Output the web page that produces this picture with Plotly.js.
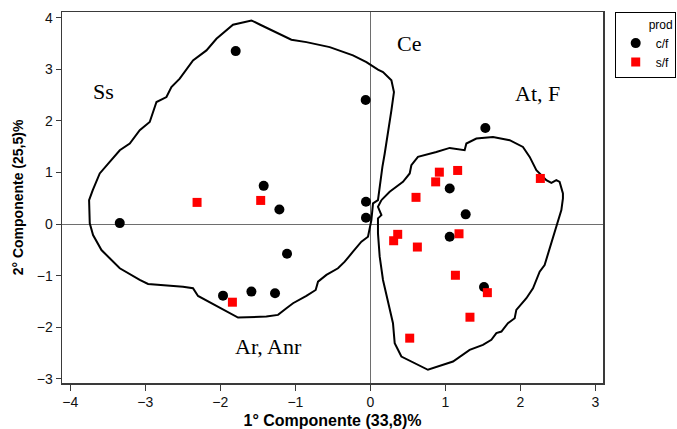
<!DOCTYPE html>
<html>
<head>
<meta charset="utf-8">
<script src="https://cdn.plot.ly/plotly-3.0.1.min.js"></script>
<style>
  html, body { margin: 0; padding: 0; background: #fff; }
  #chart { width: 677px; height: 429px; }
</style>
</head>
<body>
<div id="chart"></div>
<script>
// ---- Data ----
const groupNames = ["c/f", "s/f"];

const cfX = [-1.795, -0.063, 1.532, -1.422, -1.213, -3.340, -0.059, -0.059, -1.111, -1.964, -1.586, -1.271, 1.057, 1.270, 1.057, 1.514];
const cfY = [3.352, 2.404, 1.863, 0.741, 0.284, 0.019, 0.431, 0.122, -0.574, -1.387, -1.309, -1.340, 0.691, 0.188, -0.246, -1.219];

const sfX = [-2.310, -1.462, -1.839, 0.919, 1.163, 0.870, 2.265, 0.608, 0.364, 0.310, 1.181, 0.626, 1.133, 1.559, 1.327, 0.524];
const sfY = [0.420, 0.458, -1.514, 1.006, 1.039, 0.818, 0.884, 0.518, -0.199, -0.323, -0.188, -0.445, -0.992, -1.329, -1.805, -2.211];

// Hand-drawn group outlines (data units)
const leftOutlineX = [-3.700, -3.607, -3.474, -3.340, -3.207, -3.074, -2.941, -2.851, -2.718, -2.652, -2.541, -2.408, -2.364, -2.185, -2.052, -1.831, -1.586, -1.475, -1.053, -0.853, -0.542, -0.232, -0.053, 0.101, 0.168, 0.280, 0.314, 0.280, 0.235, 0.191, 0.160, 0.124, 0.101, 0.035, 0.013, -0.032, -0.120, -0.232, -0.342, -0.432, -0.586, -0.698, -0.729, -0.853, -1.031, -1.119, -1.231, -1.386, -1.764, -2.297, -2.364, -2.497, -2.963, -3.074, -3.340, -3.474, -3.584, -3.696, -3.740, -3.749, -3.700];
const leftOutlineY = [0.658, 0.981, 1.205, 1.431, 1.561, 1.818, 1.979, 2.366, 2.462, 2.656, 2.818, 3.075, 3.172, 3.366, 3.592, 3.863, 3.946, 3.868, 3.573, 3.526, 3.429, 3.269, 3.139, 2.992, 2.946, 2.785, 2.559, 2.205, 1.754, 1.368, 1.108, 0.721, 0.464, 0.400, 0.077, -0.246, -0.342, -0.536, -0.729, -0.857, -0.986, -1.116, -1.277, -1.393, -1.534, -1.631, -1.760, -1.793, -1.812, -1.393, -1.244, -1.213, -1.161, -1.083, -0.857, -0.663, -0.503, -0.213, 0.014, 0.464, 0.658];

const rightOutlineX = [0.147, 0.257, 0.434, 0.524, 0.546, 0.634, 0.879, 1.057, 1.256, 1.279, 1.412, 1.634, 1.856, 2.033, 2.123, 2.212, 2.345, 2.412, 2.478, 2.522, 2.566, 2.566, 2.545, 2.478, 2.389, 2.322, 2.256, 2.167, 2.079, 1.945, 1.923, 1.833, 1.746, 1.679, 1.612, 1.500, 1.323, 1.101, 0.767, 0.413, 0.368, 0.324, 0.301, 0.235, 0.168, 0.124, 0.101, 0.101, 0.147, 0.101, 0.147];
const rightOutlineY = [0.464, 0.625, 0.818, 0.981, 1.141, 1.302, 1.398, 1.476, 1.431, 1.561, 1.658, 1.689, 1.625, 1.495, 1.302, 1.044, 0.851, 0.799, 0.851, 0.818, 0.594, 0.497, 0.271, -0.052, -0.503, -0.793, -0.923, -1.244, -1.437, -1.663, -1.824, -1.921, -2.083, -2.114, -2.244, -2.340, -2.437, -2.663, -2.824, -2.567, -2.437, -2.308, -1.921, -1.534, -1.083, -0.632, -0.180, 0.110, 0.174, 0.335, 0.464];

// Group labels (text and their data coordinates)
const labelText = ["Ss", "Ce", "At, F", "Ar, Anr"];
const labelX = [-3.554, 0.517, 2.233, -1.352];
const labelY = [2.573, 3.495, 2.528, -2.379];

const xTickVals = [-4, -3, -2, -1, 0, 1, 2, 3];
const yTickVals = [-3, -2, -1, 0, 1, 2, 3, 4];

// ---- Traces ----
const outlineStyle = { color: "#000000", width: 2 };
const traces = [
  { x: leftOutlineX, y: leftOutlineY, mode: "lines", line: outlineStyle, showlegend: false, hoverinfo: "skip" },
  { x: rightOutlineX, y: rightOutlineY, mode: "lines", line: outlineStyle, showlegend: false, hoverinfo: "skip" },
  { x: cfX, y: cfY, mode: "markers", name: groupNames[0],
    marker: { symbol: "circle", color: "#000000", size: 10 } },
  { x: sfX, y: sfY, mode: "markers", name: groupNames[1],
    marker: { symbol: "square", color: "#ff0000", size: 9 } }
];

const annotations = labelText.map((t, i) => ({
  x: labelX[i], y: labelY[i], xref: "x", yref: "y", text: t, showarrow: false,
  font: { family: "Liberation Serif, Times New Roman, serif", size: 22, color: "#000" }
}));

const axisCommon = {
  showgrid: false, zeroline: true, zerolinecolor: "#6e6e6e", zerolinewidth: 1,
  showline: true, linecolor: "#3a3a3a", linewidth: 1.5, mirror: true,
  ticks: "outside", ticklen: 5, tickwidth: 1, tickcolor: "#3a3a3a",
  tickfont: { family: "Liberation Sans, Arial, sans-serif", size: 14, color: "#111" }
};

const layout = {
  width: 677, height: 429,
  margin: { l: 62, r: 74, t: 12, b: 46, autoexpand: false },
  paper_bgcolor: "#fff", plot_bgcolor: "#fff",
  font: { family: "Liberation Sans, Arial, sans-serif", color: "#000" },
  xaxis: Object.assign({}, axisCommon, {
    range: [-4.11, 3.10], tickvals: xTickVals, ticklen: 6,
    title: { text: "1° Componente (33,8)%", font: { size: 16, family: "Liberation Sans, Arial, sans-serif", weight: "bold" }, standoff: 6 }
  }),
  yaxis: Object.assign({}, axisCommon, {
    range: [-3.08, 4.11], tickvals: yTickVals,
    title: { text: "2° Componente (25,5)%", font: { size: 14, family: "Liberation Sans, Arial, sans-serif", weight: "bold" }, standoff: 10 }
  }),
  showlegend: true,
  legend: {
    xref: "container", yref: "container",
    x: 0.908, y: 0.972, xanchor: "left", yanchor: "top",
    bordercolor: "#000", borderwidth: 1, bgcolor: "#fff",
    title: { text: "prod", font: { size: 12 }, side: "top right" },
    font: { size: 12, family: "Liberation Sans, Arial, sans-serif" },
    itemwidth: 30, tracegroupgap: 0
  },
  annotations: annotations
};

Plotly.newPlot("chart", traces, layout, { displayModeBar: false, staticPlot: true });
</script>
</body>
</html>
